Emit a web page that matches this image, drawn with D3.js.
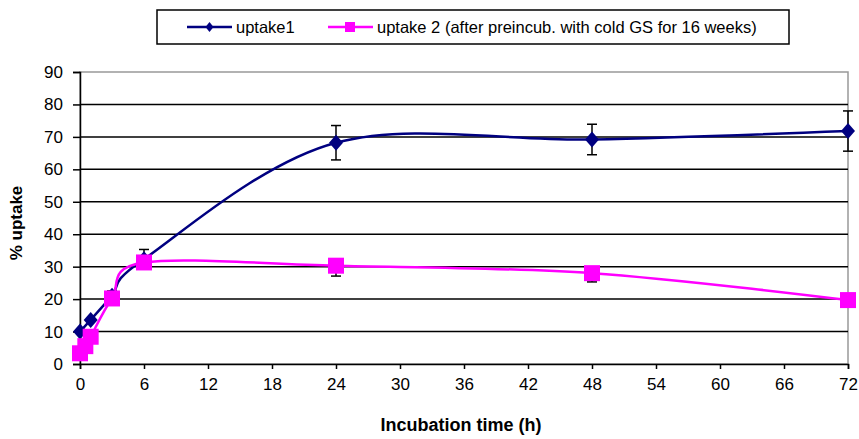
<!DOCTYPE html>
<html>
<head>
<meta charset="utf-8">
<script src="https://cdn.jsdelivr.net/npm/d3@7"></script>
<style>
  body { margin: 0; background: #fff; }
  text { font-family: Arial, "Liberation Sans", sans-serif; }
</style>
</head>
<body>
<svg id="chart" width="859" height="439"></svg>
<script>
// series 1
const time1 = [0, 1, 3, 6, 24, 48, 72]
const uptake1 = [10, 13.6, 21, 32.3, 68.2, 69.2, 71.8]
const err1 = [0, 0, 1.5, 3, 5.3, 4.7, 6.2]
// series 2 (error bars only drawn downwards)
const time2 = [0, 0.5, 1, 3, 6, 24, 48, 72]
const uptake2 = [3.3, 5.5, 8.4, 20.2, 31.3, 30.3, 28, 19.7]
const err2 = [0, 0, 0, 0, 0, 3.2, 2.7, 0]

const xTicks = [0, 6, 12, 18, 24, 30, 36, 42, 48, 54, 60, 66, 72]
const yTicks = [0, 10, 20, 30, 40, 50, 60, 70, 80, 90]
const names = ["uptake1", "uptake 2 (after preincub. with cold GS for 16 weeks)"]

const svg = d3.select("#chart")
const pl = 80, pr = 848, pt = 72, pb = 364

const x = d3.scaleLinear().domain([0, 72]).range([pl, pr])
const y = d3.scaleLinear().domain([0, 90]).range([pb, pt])

// plot area border + gridlines
svg.append("rect")
    .attr("x", pl).attr("y", pt)
    .attr("width", pr - pl).attr("height", pb - pt)
    .attr("fill", "none").attr("stroke", "#999").attr("stroke-width", 1.5)

svg.append("g")
    .selectAll("line")
    .data(yTicks.filter(d => d > 0 && d < 90))
    .enter()
    .append("line")
    .attr("x1", pl).attr("x2", pr)
    .attr("y1", d => y(d)).attr("y2", d => y(d))
    .attr("stroke", "#000").attr("stroke-width", 1.5)

// axes
const xAxis = svg.append("g")
    .attr("transform", `translate(0,${pb})`)
    .call(d3.axisBottom(x).tickValues(xTicks).tickSize(5).tickPadding(9))
const yAxis = svg.append("g")
    .attr("transform", `translate(${pl},0)`)
    .call(d3.axisLeft(y).tickValues(yTicks).tickSize(7).tickPadding(10))

for (const ax of [xAxis, yAxis]) {
    ax.select(".domain").attr("stroke", "#000").attr("stroke-width", 1.5)
    ax.selectAll(".tick line").attr("stroke", "#000").attr("stroke-width", 1.5)
    ax.selectAll(".tick text").attr("fill", "#000").style("font-size", "17px")
}

// axis titles
svg.append("text")
    .attr("x", 461).attr("y", 431)
    .attr("text-anchor", "middle")
    .style("font-size", "18px").style("font-weight", "bold")
    .text("Incubation time (h)")
svg.append("text")
    .attr("transform", "translate(22,223) rotate(-90)")
    .attr("text-anchor", "middle")
    .style("font-size", "17px").style("font-weight", "bold")
    .text("% uptake")

const line = d3.line()
    .x(d => x(d[0]))
    .y(d => y(d[1]))
    .curve(d3.curveCardinal.tension(0))

const s1 = time1.map((t, i) => [t, uptake1[i], err1[i]])
const s2 = time2.map((t, i) => [t, uptake2[i], err2[i]])

// error bars
function errBars(data, upToo) {
    const g = svg.append("g").attr("stroke", "#000").attr("stroke-width", 1.5)
    data.filter(d => d[2] > 0).forEach(d => {
        const cx = x(d[0])
        const hi = upToo ? d[1] + d[2] : d[1]
        const lo = d[1] - d[2]
        g.append("line").attr("x1", cx).attr("x2", cx).attr("y1", y(hi)).attr("y2", y(lo))
        if (upToo) g.append("line").attr("x1", cx - 5).attr("x2", cx + 5).attr("y1", y(hi)).attr("y2", y(hi))
        g.append("line").attr("x1", cx - 5).attr("x2", cx + 5).attr("y1", y(lo)).attr("y2", y(lo))
    })
}
errBars(s1, true)
errBars(s2, false)

svg.append("path")
    .datum(s1)
    .attr("d", line)
    .attr("fill", "none").attr("stroke", "#000080").attr("stroke-width", 2.5)

svg.append("path")
    .datum(s2)
    .attr("d", line)
    .attr("fill", "none").attr("stroke", "#ff00ff").attr("stroke-width", 2.5)

// markers
svg.append("g")
    .selectAll("path")
    .data(s1)
    .enter()
    .append("path")
    .attr("d", "M0,-8L7,0L0,8L-7,0Z")
    .attr("transform", d => `translate(${x(d[0])},${y(d[1])})`)
    .attr("fill", "#000080")

svg.append("g")
    .selectAll("rect")
    .data(s2)
    .enter()
    .append("rect")
    .attr("x", d => x(d[0]) - 8).attr("y", d => y(d[1]) - 8)
    .attr("width", 16).attr("height", 16)
    .attr("fill", "#ff00ff")

// legend
const lg = svg.append("g")
lg.append("rect")
    .attr("x", 157).attr("y", 10).attr("width", 632).attr("height", 34)
    .attr("fill", "#fff").attr("stroke", "#000").attr("stroke-width", 1.5)
lg.append("line").attr("x1", 187).attr("x2", 232).attr("y1", 27).attr("y2", 27)
    .attr("stroke", "#000080").attr("stroke-width", 2.5)
lg.append("path").attr("d", "M0,-5L4,0L0,5L-4,0Z")
    .attr("transform", "translate(209.5,27)").attr("fill", "#000080")
lg.append("text").attr("x", 236).attr("y", 33).style("font-size", "16.5px").text(names[0])
lg.append("line").attr("x1", 328).attr("x2", 373).attr("y1", 27).attr("y2", 27)
    .attr("stroke", "#ff00ff").attr("stroke-width", 2.5)
lg.append("rect").attr("x", 345).attr("y", 22).attr("width", 10).attr("height", 10).attr("fill", "#ff00ff")
lg.append("text").attr("x", 377).attr("y", 33).style("font-size", "16.5px").text(names[1])
</script>
</body>
</html>
